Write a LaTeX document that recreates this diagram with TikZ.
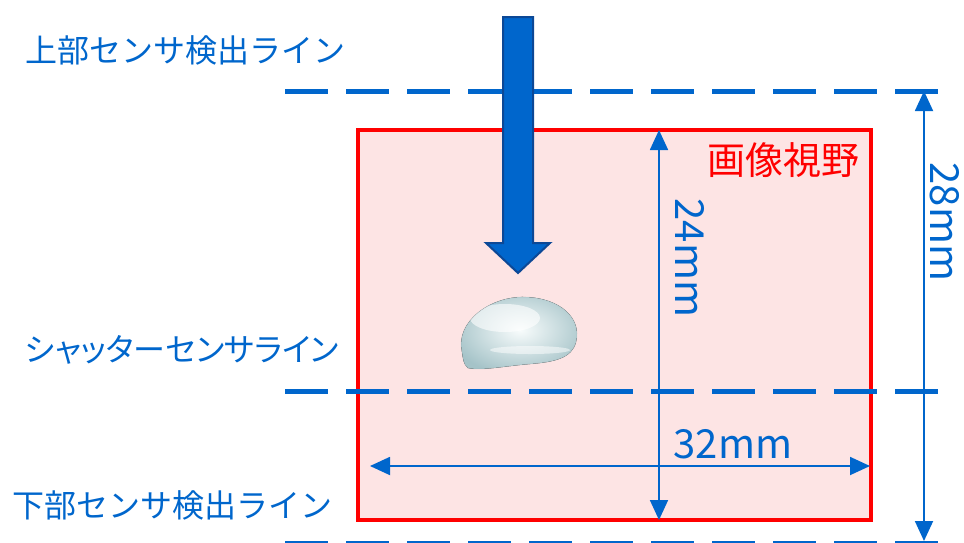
\documentclass[tikz,border=0pt]{standalone}
\usepackage{fontspec}
\setmainfont{Noto Sans CJK JP}
\newfontfamily\jpprop[RawFeature=+palt]{Noto Sans CJK JP}
\usetikzlibrary{arrows.meta}
\definecolor{lineblue}{RGB}{0,102,204}
\definecolor{arrowedge}{RGB}{12,72,150}
\definecolor{fovred}{RGB}{255,0,0}
\definecolor{fovfill}{RGB}{253,228,228}
\definecolor{dropdark}{RGB}{165,195,200}
\definecolor{droplight}{RGB}{248,252,252}
\tikzset{
  sensorline/.style={draw=lineblue, line width=5pt, dash pattern=on 43pt off 18pt},
  dimline/.style={draw=lineblue, line width=1.8pt,
    {Triangle[length=20pt,width=18pt]}-{Triangle[length=20pt,width=18pt]}},
  linelabel/.style={text=lineblue, font=\fontsize{32}{36}\selectfont, inner sep=0pt},
  dimlabel/.style={text=lineblue, font=\fontsize{40}{44}\selectfont, inner sep=0pt},
}
\begin{document}
\begin{tikzpicture}[x=1pt,y=-1pt]
\useasboundingbox (0,0) rectangle (964,542);
\clip (0,0) rectangle (964,542);

% field of view
\draw[draw=fovred, fill=fovfill, line width=3.5pt] (358,130) rectangle (871,520);
\node[text=fovred, font=\fontsize{38}{42}\selectfont, inner sep=0pt] (fov) at (783,160) {画像視野};

% sensor lines
\coordinate (topL) at (285,91);   \coordinate (topR) at (940,91);
\coordinate (midL) at (285,391);  \coordinate (midR) at (940,391);
\coordinate (botL) at (285,543);  \coordinate (botR) at (940,543);
\draw[sensorline] (topL) -- (topR);
\draw[sensorline] (midL) -- (midR);
\draw[sensorline] (botL) -- (botR);

% line labels
\node[linelabel, anchor=west] (upper) at (25,50) {上部センサ検出ライン};
\node[linelabel, anchor=west, font=\jpprop\fontsize{32}{36}\selectfont] (shutter) at (25,350) {シャッターセンサライン};
\node[linelabel, anchor=west] (lower) at (12,505) {下部センサ検出ライン};

% falling direction arrow
\draw[fill=lineblue, draw=arrowedge, line width=2pt, line join=miter]
  (503,17) -- (533,17) -- (533,243) -- (550,243) -- (518,273) -- (486,243) -- (503,243) -- cycle;

% droplet
\begin{scope}
\path[clip] (462,352) .. controls (455,322) and (490,296) .. (525,297)
  .. controls (560,298) and (582,318) .. (576,342)
  .. controls (572,358) and (555,362) .. (530,364)
  .. controls (505,366) and (482,371) .. (468,368)
  .. controls (463,364) and (463,358) .. (462,352) -- cycle;
\fill[inner color=droplight, outer color=dropdark] (450,285) rectangle (590,375);
\fill[white, opacity=0.6] (505,318) ellipse [x radius=35pt, y radius=14pt];
\fill[white, opacity=0.5] (530,350) ellipse [x radius=40pt, y radius=4pt];
\end{scope}
\draw[dropdark!80!black, opacity=0.3, line width=0.6pt]
  (462,352) .. controls (455,322) and (490,296) .. (525,297)
  .. controls (560,298) and (582,318) .. (576,342)
  .. controls (572,358) and (555,362) .. (530,364)
  .. controls (505,366) and (482,371) .. (468,368)
  .. controls (463,364) and (463,358) .. (462,352) -- cycle;

% dimensions
\coordinate (v24t) at (659,130); \coordinate (v24b) at (659,520);
\draw[dimline] (v24t) -- (v24b);
\node[dimlabel, rotate=-90] (d24) at (690,258) {24mm};

\coordinate (v28t) at (924,91); \coordinate (v28b) at (924,541);
\draw[dimline] (v28t) -- (v28b);
\node[dimlabel, rotate=-90] (d28) at (945,222) {28mm};

\coordinate (h32l) at (370,466); \coordinate (h32r) at (870,466);
\draw[dimline] (h32l) -- (h32r);
\node[dimlabel] (d32) at (733,444) {32mm};
\end{tikzpicture}
\end{document}
